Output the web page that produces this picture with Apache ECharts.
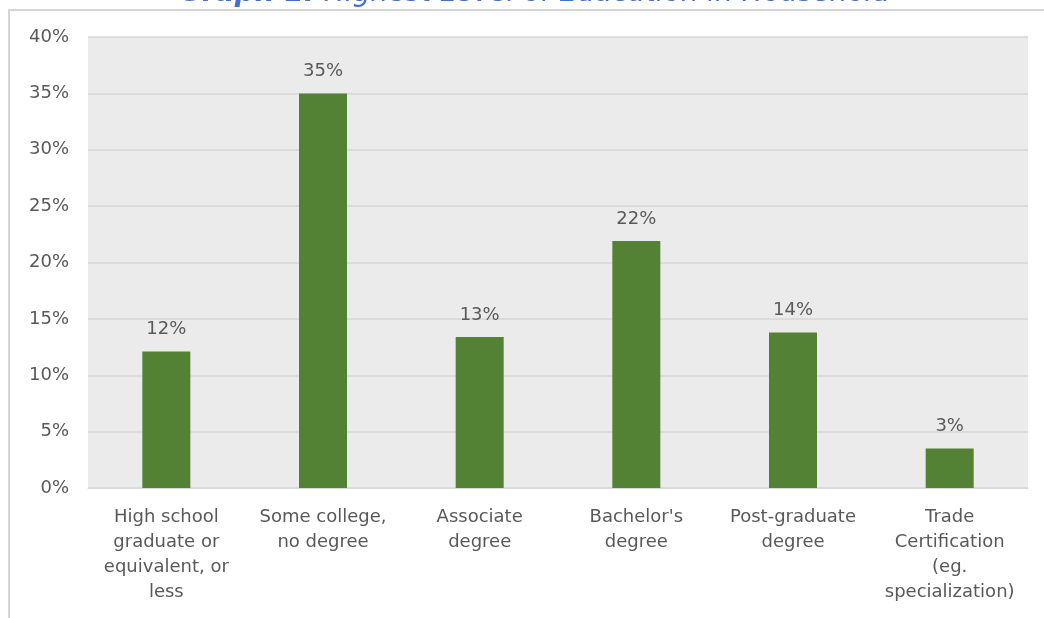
<!DOCTYPE html>
<html>
<head>
<meta charset="utf-8">
<script src="https://cdn.jsdelivr.net/npm/echarts@6/dist/echarts.min.js"></script>
<style>
html,body{margin:0;padding:0;background:#fff;}
#chart{width:1044px;height:618px;}
</style>
</head>
<body>
<div id="chart"></div>
<script>
const categories = [
  'High school\ngraduate or\nequivalent, or\nless',
  'Some college,\nno degree',
  'Associate\ndegree',
  "Bachelor's\ndegree",
  'Post-graduate\ndegree',
  'Trade\nCertification\n(eg.\nspecialization)'
];
const values = [12.1, 35.0, 13.4, 21.9, 13.8, 3.5];
const valueLabels = ['12%', '35%', '13%', '22%', '14%', '3%'];
const yTicks = { min: 0, max: 40, interval: 5 };
const titleBold = 'Graph 1:';
const titleRest = ' Highest Level of Education in Household';

const FONT = 'DejaVu Sans';
const chart = echarts.init(document.getElementById('chart'), null, { renderer: 'canvas' });
chart.setOption({
  animation: false,
  backgroundColor: '#ffffff',
  graphic: [
    {
      type: 'text', left: 179, top: -20, z: 10,
      style: {
        text: '{b|' + titleBold + '}{n|' + titleRest + '}',
        rich: {
          b: { fontWeight: 'bold', fontStyle: 'italic', fontSize: 28, fontFamily: FONT, fill: '#3f6fd1' },
          n: { fontWeight: 'normal', fontStyle: 'italic', fontSize: 28, fontFamily: FONT, fill: '#3f6fd1' }
        }
      }
    },
    { type: 'line', z: 11, shape: { x1: 8, y1: 10, x2: 1044, y2: 10 }, style: { stroke: '#d6d6d6', lineWidth: 2 } },
    { type: 'line', z: 11, shape: { x1: 9, y1: 9, x2: 9, y2: 618 }, style: { stroke: '#d6d6d6', lineWidth: 2 } }
  ],
  grid: {
    left: 88, right: 16, top: 37, bottom: 130,
    show: true, backgroundColor: '#ebebeb', borderWidth: 0
  },
  xAxis: {
    type: 'category',
    data: categories,
    axisLine: { show: true, lineStyle: { color: '#d9d9d9', width: 1 } },
    axisTick: { show: false },
    axisLabel: {
      interval: 0, margin: 17, color: '#595959',
      fontFamily: FONT, fontSize: 18, lineHeight: 25
    }
  },
  yAxis: {
    type: 'value',
    min: yTicks.min, max: yTicks.max, interval: yTicks.interval,
    axisLine: { show: false },
    axisTick: { show: false },
    splitLine: { lineStyle: { color: '#d6d6d6', width: 1.5 } },
    axisLabel: {
      formatter: '{value}%', margin: 19, color: '#595959',
      fontFamily: FONT, fontSize: 18
    }
  },
  series: [{
    type: 'bar',
    data: values,
    barWidth: 48,
    itemStyle: { color: '#548235' },
    label: {
      show: true, position: 'top', distance: 13,
      color: '#595959', fontFamily: FONT, fontSize: 18,
      formatter: p => valueLabels[p.dataIndex]
    }
  }]
});
</script>
</body>
</html>
